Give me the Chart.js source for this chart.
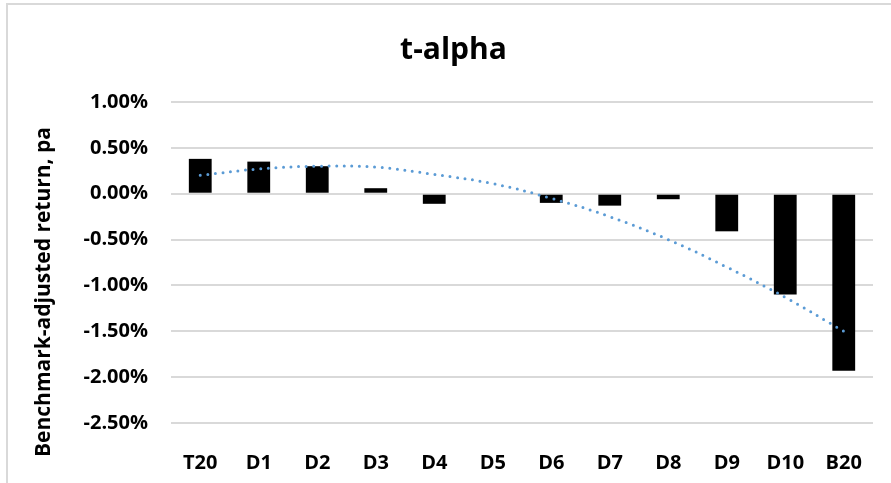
<!DOCTYPE html>
<html>
<head>
<meta charset="utf-8">
<script src="https://cdn.jsdelivr.net/npm/chart.js@4"></script>
<style>
html,body{margin:0;padding:0;background:#fff;}
#wrap{position:relative;width:891px;height:483px;overflow:hidden;}
#frame{position:absolute;left:6px;top:3px;right:-10px;bottom:-10px;border-left:2px solid #d9d9d9;border-top:2px solid #d9d9d9;}
#c{position:absolute;left:0;top:0;}
</style>
</head>
<body>
<div id="wrap">
<div id="frame"></div>
<canvas id="c" width="891" height="483"></canvas>
</div>
<script>
// =========================
// DATA
// =========================

const categories = ["T20","D1","D2","D3","D4","D5","D6","D7","D8","D9","D10","B20"];

// benchmark-adjusted return, % pa
const alpha = [0.38, 0.35, 0.30, 0.06, -0.11, 0.00, -0.10, -0.13, -0.06, -0.41, -1.10, -1.93];

// dotted trend line
const trend = [0.20, 0.27, 0.30, 0.29, 0.21, 0.11, -0.05, -0.25, -0.50, -0.80, -1.13, -1.50];

const yTicks = [1.0, 0.5, 0.0, -0.5, -1.0, -1.5, -2.0, -2.5];

const FONT = "'Open Sans', 'DejaVu Sans', sans-serif";

// y axis title, drawn by hand so it can sit where Excel put it
const yTitlePlugin = {
    id:"yTitle",
    afterDraw(chart){
        const ctx = chart.ctx;
        ctx.save();
        ctx.translate(50, 292);
        ctx.rotate(-Math.PI/2);
        ctx.font = "bold 21px " + FONT;
        ctx.fillStyle = "#000";
        ctx.textAlign = "center";
        ctx.textBaseline = "alphabetic";
        ctx.fillText("Benchmark-adjusted return, pa", 0, 0);
        ctx.restore();
    }
};

new Chart(document.getElementById("c"),{

    data:{
        labels:categories,
        datasets:[
            {
                type:"line",
                data:trend,
                borderColor:"#5b9bd5",
                borderWidth:3,
                borderDash:[0,7.6],
                borderCapStyle:"round",
                pointRadius:0,
                tension:0.4,
                fill:false,
                order:0
            },
            {
                type:"bar",
                data:alpha,
                backgroundColor:"#000",
                borderWidth:0,
                categoryPercentage:1,
                barPercentage:0.39,
                order:1
            }
        ]
    },

    options:{
        responsive:false,
        animation:false,
        layout:{
            // left padding only to centre the title like the original
            padding:{left:34,right:18,top:0,bottom:0}
        },
        plugins:{
            legend:{display:false},
            tooltip:{enabled:false},
            title:{
                display:true,
                text:"t-alpha",
                color:"#000",
                font:{family:FONT,size:30,weight:"bold"},
                padding:{top:32,bottom:34}
            }
        },
        scales:{
            x:{
                grid:{display:false},
                border:{display:false},
                ticks:{
                    color:"#000",
                    padding:20,
                    font:{family:FONT,size:20,weight:"bold"}
                },
                afterFit(scale){ scale.height = 60; }
            },
            y:{
                min:-2.5,
                max:1.0,
                grid:{color:"#d9d9d9",lineWidth:2,drawTicks:false},
                border:{display:false},
                ticks:{
                    color:"#000",
                    padding:23,
                    font:{family:FONT,size:20,weight:"bold"},
                    callback:(v)=>v.toFixed(2)+"%"
                },
                afterBuildTicks(scale){
                    scale.ticks = yTicks.map(v=>({value:v}));
                },
                afterFit(scale){ scale.width = 137; }
            }
        }
    },

    plugins:[yTitlePlugin]
});
</script>
</body>
</html>
